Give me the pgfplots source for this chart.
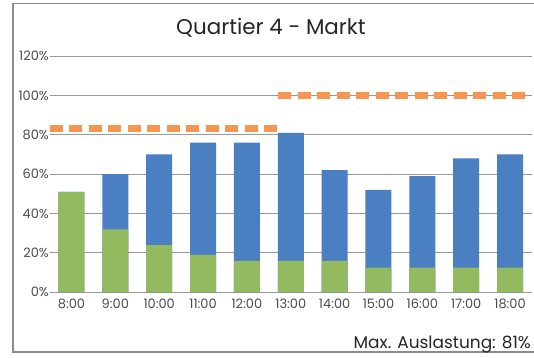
\documentclass[border=0pt]{standalone}
\usepackage{pgfplots}
\pgfplotsset{compat=1.18}
\usepackage{fontspec}
\setmainfont{Poppins}
\definecolor{barGreen}{HTML}{93BA5E}
\definecolor{barBlue}{HTML}{4A7FC1}
\definecolor{dashOrange}{HTML}{F79650}
\begin{document}
\begin{tikzpicture}[x=1bp,y=1bp]
\path[use as bounding box] (0,0) rectangle (534,357);
\fill[white] (0,0) rectangle (534,357);
\draw[black!45, line width=1.5bp] (13,5) rectangle (550,353.5);
\begin{axis}[
  at={(49.5bp,64.7bp)}, anchor=south west,
  scale only axis, width=482.5bp, height=236.3bp,
  xmin=-0.5, xmax=10.5, ymin=0, ymax=120,
  ybar, bar width=26bp,
  axis line style={draw=none},
  major tick length=0pt,
  ytick={0,20,...,120},
  yticklabel={\pgfmathprintnumber{\tick}\%},
  yticklabel style={font=\fontsize{13}{14}\selectfont, text=black!70, inner xsep=0.5bp},
  xtick={0,...,10},
  xticklabels={8:00,9:00,10:00,11:00,12:00,13:00,14:00,15:00,16:00,17:00,18:00},
  xticklabel style={font=\fontsize{13}{14}\selectfont, text=black!70, yshift=-3bp},
  ymajorgrids,
  major grid style={black!40, line width=0.9bp},
  extra y ticks={0,20,80,100,120},
  extra y tick labels={},
  extra y tick style={grid style={black!75, line width=0.9bp}},
  /pgf/number format/assume math mode=true,
  clip=false,
]
% total occupancy (blue top)
\addplot[fill=barBlue, draw=none, bar shift=0pt] coordinates {
(0,51) (1,60) (2,70) (3,76) (4,76) (5,81) (6,62) (7,52) (8,59) (9,68) (10,70)};
% green part
\addplot[fill=barGreen, draw=none, bar shift=0pt] coordinates {
(0,51) (1,32) (2,24) (3,19) (4,16) (5,16) (6,16) (7,12.5) (8,12.5) (9,12.5) (10,12.5)};
% capacity lines
\addplot[sharp plot, dashOrange, line width=7bp, dash pattern=on 13bp off 6.5bp] coordinates {(-0.49,83) (4.78,83)};
\addplot[sharp plot, dashOrange, line width=7bp, dash pattern=on 13bp off 6.5bp] coordinates {(4.71,100) (10.4,100)};
\end{axis}
\node[font=\fontsize{21.5}{24}\selectfont, text=black!85] at (271,329) {Quartier 4 - Markt};
\node[font=\fontsize{17}{20}\selectfont, text=black!85, anchor=base east, inner sep=0pt] at (531,9) {Max. Auslastung: 81\%};
\end{tikzpicture}
\end{document}
